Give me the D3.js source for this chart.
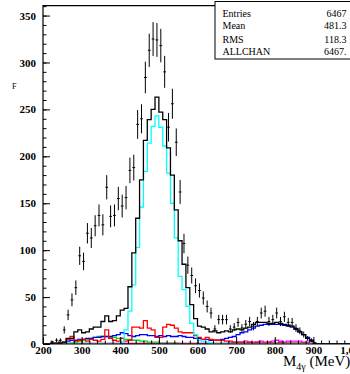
<!DOCTYPE html>
<html><head><meta charset="utf-8">
<script src="https://cdn.jsdelivr.net/npm/d3@7"></script>
<style>body{margin:0;background:#fff} svg{display:block}</style>
</head><body>
<svg id="c" width="350" height="374"></svg>
<script>
// bins: 10 MeV wide, 200..1000
const binLow = d3.range(200, 1000, 10);
const dataCounts = [0,0,2,4,4,15,31,47,60,94, 88,118,113,126,137,127,167,136,137,155,
  147,156,185,188,234,240,284,313,325,324, 318,290,231,256,215,162,107,84,73,62,
  57,49,40,33,16,26,26,26,16,18, 23,17,21,24,19,24,33,35,24,26,
  33,24,29,23,23,17,14,10,6,4, 1,0,0,0,0,0,0,0,0,0];
const totalMC = [0,0,1,1,1,2,6,6,13,15, 12,13,16,18,18,24,30,24,25,30,
  36,38,61,97,134,175,217,239,250,263, 247,239,209,180,143,110,85,60,42,27,
  19,18,16,13,14,12,13,14,13,15, 16,15,17,18,21,23,23,23,22,22,
  23,22,21,20,19,16,13,10,6,3, 0,0,0,0,0,0,0,0,0,0];
const cyanMC = [0,0,0,0,0,0,0,0,0,0, 0,0,0,0,0,0,0,0,0,0,
  2,15,35,63,103,146,184,214,232,243, 231,211,182,150,113,72,58,40,22,10,
  4,3,2,1,0,0,0,0,0,0, 0,0,0,0,0,0,0,0,0,0,
  0,0,0,0,0,0,0,0,0,0, 0,0,0,0,0,0,0,0,0,0];
const redMC = [0,0,0,1,1,2,5,8,3,4, 5,3,5,4,3,5,15,6,4,3,
  6,3,4,18,18,17,25,17,15,7, 7,18,21,20,17,13,12,12,12,9,
  7,5,7,5,4,4,4,3,3,2, 2,2,1,2,1,2,1,1,2,1,
  1,2,1,1,1,1,1,1,1,0, 0,0,0,0,0,0,0,0,0,0];
const blueMC = [0,0,0,0,1,1,3,4,4,5, 5,6,6,7,7,8,8,8,9,10,
  12,11,9,8,9,10,10,9,9,8, 9,8,9,8,8,9,8,7,7,6,
  6,5,5,4,4,4,5,6,7,8, 10,12,13,15,17,19,20,21,21,21,
  21,21,20,19,18,16,13,10,7,4, 0,0,0,0,0,0,0,0,0,0];
const greenMC = [0,0,0,0,0,0,0,1,2,3, 4,5,6,7,8,8,8,7,7,6,
  6,5,5,4,4,3,3,2,2,2, 1,1,1,1,1,0,0,0,0,0,
  0,0,0,0,0,0,0,0,0,0, 0,0,0,0,0,0,0,0,0,0,
  0,0,0,0,0,0,0,0,0,0, 0,0,0,0,0,0,0,0,0,0];
const magentaMC = [0,0,0,0,0,0,0,0,0,0, 0,0,0,0,0,0,0,0,0,0,
  0,0,0,0,0,0,0,0,0,0, 0,0,0,0,0,0,0,0,0,0,
  0,0,0,0,0,0,0,0,1,2, 2,2,3,2,2,2,3,2,2,3,
  4,3,2,3,3,3,3,2,2,1, 0,0,0,0,0,0,0,0,0,0];
const maroonMC = [0,0,0,0,0,0,0.6,0.6,0.6,0.6, 0.6,0.6,0.6,0.6,0.6,0.6,0.6,0.6,0.6,0.6,
  0.6,0.6,0.6,0.6,0.6,0.6,0.6,0.6,0.6,0.6, 0.6,0.6,0.6,0.6,0.6,0.6,0.6,0.6,0.6,0.6,
  0.6,0.6,0.6,0.6,0.6,0.6,0.6,0.6,0.6,0.6, 0.6,0.6,0.6,0.6,0.6,0.6,0.6,0.6,0.6,0.6,
  0.6,0.6,0.6,0.6,0.6,0.6,0.6,0.6,0.6,0, 0,0,0,0,0,0,0,0,0,0];
const xTicks = [200,300,400,500,600,700,800,900,1000];
const yTicks = [0,50,100,150,200,250,300,350];
const statNames = ["Entries","Mean","RMS","ALLCHAN"];
const statValues = ["6467","481.3","118.3","6467."];
const binWidth = 10;

const svg = d3.select("#c");
const FONT = "'Liberation Serif','Times New Roman',serif";
const x = d3.scaleLinear().domain([200,1000]).range([43,352]);
const y = d3.scaleLinear().domain([0,360.5]).range([344,5.7]);

svg.append("defs").append("clipPath").attr("id","clip")
  .append("rect").attr("x",43).attr("y",5.7).attr("width",309).attr("height",338.3);

const g = svg.append("g").attr("clip-path","url(#clip)");

function histo(vals, color, w){
  const pts = binLow.map((b,i)=>[b, vals[i]]);
  pts.push([1000, vals[vals.length-1]]);
  const line = d3.line().x(d=>x(d[0])).y(d=>y(d[1])).curve(d3.curveStepAfter);
  g.append("path").attr("d", line(pts)).attr("fill","none")
    .attr("stroke", color).attr("stroke-width", w);
}
histo(maroonMC, "#8b0000", 1.2);
histo(greenMC, "#00dd00", 1.3);
histo(magentaMC, "#ff00ff", 1.3);
histo(blueMC, "#0000ff", 1.3);
histo(redMC, "#ff0000", 1.3);
histo(cyanMC, "#00ffff", 1.3);
histo(totalMC, "#000000", 1.3);

// data points with errors
const pts = binLow.map((b,i)=>({lo:b, v:dataCounts[i]})).filter(d=>d.v>0);
const eg = g.append("g").attr("stroke","#000").attr("stroke-width",1);
eg.selectAll("line.v").data(pts).join("line").attr("class","v")
  .attr("x1",d=>x(d.lo+binWidth/2)).attr("x2",d=>x(d.lo+binWidth/2))
  .attr("y1",d=>y(d.v-Math.sqrt(d.v))).attr("y2",d=>y(d.v+Math.sqrt(d.v)));
eg.selectAll("line.h").data(pts).join("line").attr("class","h")
  .attr("x1",d=>x(d.lo+1.5)).attr("x2",d=>x(d.lo+binWidth-1.5))
  .attr("y1",d=>y(d.v)).attr("y2",d=>y(d.v));

// axes
const yAxis = d3.axisLeft(y).tickValues(yTicks).tickSize(-7).tickPadding(7);
const yMinor = d3.axisLeft(y).tickValues(d3.range(0,361,10)).tickSize(-3.5).tickFormat("");
const xAxis = d3.axisBottom(x).tickValues(xTicks).tickSize(-7).tickPadding(2.5);
const xMinor = d3.axisBottom(x).tickValues(d3.range(200,1001,20)).tickSize(-3.5).tickFormat("");

function styleAxis(sel){
  sel.select(".domain").remove();
  sel.selectAll("line").attr("stroke","#000").attr("stroke-width",1);
  sel.selectAll("text").attr("font-family",FONT).attr("font-weight","bold")
    .attr("font-size","11px").attr("fill","#000");
}
svg.append("g").attr("transform","translate(43,0)").call(yMinor).call(styleAxis);
svg.append("g").attr("transform","translate(43,0)").call(yAxis).call(styleAxis);
svg.append("g").attr("transform","translate(0,344)").call(xMinor).call(styleAxis);
svg.append("g").attr("transform","translate(0,344)").call(xAxis).call(styleAxis);

// frame
svg.append("path").attr("d","M43,344V5.7H352V344H43").attr("fill","none")
  .attr("stroke","#000").attr("stroke-width",1.2);

// stats box
svg.append("rect").attr("x",215).attr("y",1.5).attr("width",140).attr("height",57.5)
  .attr("fill","#fff").attr("stroke","#000").attr("stroke-width",1);
const base = [16.7,29.3,42.7,55];
statNames.forEach((n,i)=>{
  svg.append("text").attr("x",222.5).attr("y",base[i]).text(n)
    .attr("font-family",FONT).attr("font-size","10px");
  svg.append("text").attr("x",346.5).attr("y",base[i]).attr("text-anchor","end").text(statValues[i])
    .attr("font-family",FONT).attr("font-size","10px");
});

// axis titles
const t = svg.append("text").attr("x",283).attr("y",366).attr("font-family",FONT).attr("font-size","15px");
t.append("tspan").text("M");
t.append("tspan").attr("font-size","10px").attr("dy",4).text("4γ");
t.append("tspan").attr("dy",-4).text(" (MeV)");
svg.append("text").attr("x",12).attr("y",89).attr("font-family",FONT).attr("font-size","8px").text("F");
</script>
</body></html>
